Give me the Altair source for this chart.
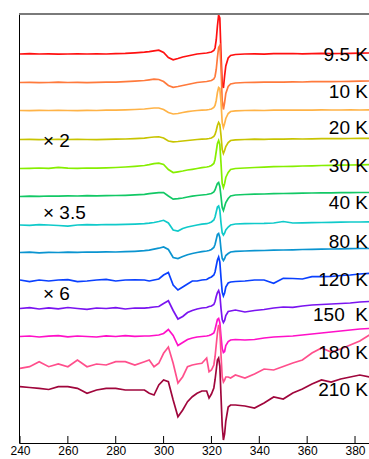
import altair as alt
import pandas as pd

# Magnetic field (mT) sampling grid
X = [240, 244, 248, 252, 256, 260, 264, 268, 272, 276, 280, 284, 288, 292,
     294, 296, 298, 300, 302, 304, 306, 308, 310, 312, 314, 316, 318,
     319, 320, 321, 321.5, 322, 322.5, 323, 323.5, 324, 324.5, 325, 325.5, 326, 327, 328,
     330, 334, 338, 342, 346, 350, 354, 358, 362, 366, 370, 374, 378, 382, 386]

series = ["trace 1", "trace 2", "trace 3", "trace 4", "trace 5", "trace 6", "trace 7",
          "trace 8", "trace 9", "trace 10", "trace 11", "trace 12", "trace 13"]
colors = ["#ff1010", "#ff7a3c", "#ffb347", "#c8c400", "#86ee00", "#12c865", "#10caca",
          "#0a94d0", "#0a40ff", "#7a14f0", "#ff10c8", "#ff4f8c", "#a0063c"]

# vertical offsets of each spectrum (stacked display)
offsets = [389, 360.5, 332.5, 303.5, 274.5, 246.5, 218, 190.5, 163, 134.5, 106.5, 78, 57]

s1 = [0, 0.3, 0, 0.2, -0.2, 0, 0.1, 0, 0.2, 0, 0.3, 0.6, 1.2, 1.8,
      2.3, 3.2, 3.8, 1.5, -3.5, -5.8, -4.5, -3, -2, -1, 0, 0.5, 1,
      1.5, 2, 3.5, 6, 14, 28, 39, 36, 0, -30, -34, -22, -12, -4, -1.5,
      -0.5, 0, 0.2, -0.2, 0.3, 0.3, 0.5, 0.2, 0.4, 0.6, 0.3, 0.5, 0.7, 0.8, 1]
s2 = [0, 0.2, -0.2, 0, 0.3, 0, 0.2, -0.1, 0.2, 0.3, 0.4, 0.8, 1.4, 2,
      2.6, 3.3, 3, 1, -3, -4.8, -4, -3, -2, -1, 0, 0.5, 1,
      1.5, 2, 3.5, 6, 13, 25, 35, 37, 15, -18, -27, -20, -11, -4, -1.5,
      -0.5, 0, 0.2, 0.3, 0.5, 0.4, 0.6, 0.5, 0.8, 0.9, 0.8, 1, 1.2, 1.3, 1.5]
s3 = [0, -0.2, 0.1, 0, 0.2, 0, -0.1, 0.2, 0, 0.3, 0.4, 0.6, 1, 1.5,
      2, 2.5, 2.5, 1, -2, -3.5, -3, -2, -1.2, -0.5, 0, 0.3, 0.6,
      1, 1.5, 3, 5, 10, 18, 23, 22, 8, -12, -17, -13, -8, -3, -1,
      -0.3, 0, 0.2, 0, 0.3, 0.4, 0.3, 0.5, 0.4, 0.6, 0.5, 0.5, 0.6, 0.5, 0.6]
s4 = [0, 0.1, -0.2, 0, 0.2, 0, 0.1, 0, -0.2, 0.2, 0.3, 0.5, 0.9, 1.4,
      2, 2.5, 2.7, 1.5, -1.5, -2.3, -2, -1.5, -1, -0.5, 0, 0.3, 0.6,
      1, 1.5, 3, 5, 9, 14, 17, 15, 4, -10, -14, -11, -7, -3, -1,
      -0.3, 0, 0.3, 0.2, 0.5, 0.4, 0.6, 0.5, 0.7, 0.8, 0.9, 0.8, 1, 1.1, 1.2]
s5 = [0, 0.2, 0.5, 0.2, 1.2, 0.3, 0.2, 0.5, 0.4, 0.7, 1, 1.5, 2.2, 3,
      3.8, 4.8, 5.3, 4, -1, -4, -3.3, -2.5, -1.5, -0.8, 0, 0.8, 1.5,
      2, 3, 5, 9, 17, 25, 28, 24, 5, -15, -19, -15, -9, -4, -1,
      0, 0.5, 1, 1.3, 1.8, 2, 2.2, 2.5, 2.7, 3, 3.2, 3.3, 3.5, 3.6, 3.8]
s6 = [0, 0.3, 0.2, 0.5, 0.3, 0.6, 0.5, 0.8, 0.6, 0.9, 1, 1.2, 1.6, 2.2,
      2.8, 3.3, 3.8, 4, 0.5, -2.7, -2.2, -1.5, -0.5, 0.3, 1, 1.5, 2,
      2.5, 3, 4.5, 6.5, 10, 13, 14, 10, 0, -11, -14, -10, -6, -2, 0.5,
      1.5, 2, 2.3, 2.5, 2.8, 3, 3.2, 3.3, 3.5, 3.6, 3.7, 3.8, 3.9, 4, 4]
s7 = [0, -0.3, 0.3, 0, -0.5, -1.2, 0, 0.4, 0.2, 0.5, 0.3, 0.7, 0.9, 1.3,
      1.8, 2.5, 3.5, 4.7, 2, -5, -6, -3.5, -2, -1, 0, 0.8, 1.3,
      2, 3, 5, 8, 13, 18, 19, 15, 2, -8, -10, -8, -5, -2, 0,
      1, 1.3, 1.5, 1.6, 2, 3.5, 2, 2.2, 2.4, 2.5, 2.6, 2.8, 3, 3, 3.2]
s8 = [0, 0.3, -0.3, 0.2, 0, 0.4, 0.2, 0.5, 0.3, 0.6, 0.5, 0.8, 1.2, 1.8,
      2.4, 3.3, 4.3, 5.6, 3, -5, -6, -4, -2.2, -1, 0, 0.8, 1.5,
      2, 3, 5, 8, 13, 18, 19, 15, 3, -6, -8, -6, -3, -1, 0.5,
      1.2, 1.5, 1.8, 2, 2.3, 2.5, 2.7, 3, 3.2, 3.3, 3.5, 3.6, 3.8, 4, 4]
s9 = [0, -1.7, 0, -1, 0, 0.3, -1.7, -1, 0, 0.7, -1, 0, 0.2, 0,
      -1, 0, 1, 5, 7.5, -5, -10, -7, -4, -1, -1, 0, 0.5,
      2, 3, 5, 8, 14, 20, 23, 18, 2, -12, -16, -13, -7, -3, -2,
      -1.5, -1, 0, 0, -3.3, 1.7, 1.5, 1, 3.3, 3.3, 3.5, 4.5, 5, 6, 6.7]
s10 = [0, 0.8, -0.5, 0.6, -0.3, 1, 0, -0.8, 0.5, 0, 0.8, -0.5, 0.5, 0.3,
       0.8, 1.5, 2, 5, 7.7, -2, -10.5, -8, -4, -2, -0.5, 0.5, 1,
       2, 2.5, 4, 7, 12, 16, 18, 14, 0, -11, -14, -12, -7, -3, -2.5,
       -1.5, -3.5, -2, -1, 0.5, 1.5, 1.2, 2.5, 3.5, 4, 4.5, 5, 5.5, 6.5, 7]
s11 = [0, 0.5, -0.5, 0.3, 0.8, -0.3, 0.5, 0, -0.5, 0.6, 0, 0.8, 0.2, 0.5,
       0.5, 1, 1.5, 3, 7, 1, -9, -6, -3, -1.5, -0.5, 0, 0.5,
       1, 2, 3.5, 7, 12, 17, 18, 14, 0, -12, -16, -15, -9, -5, -3.5,
       -3, -3.5, -3, -1.5, -0.5, 0, 0.5, 1.5, 2.5, 3.5, 4.5, 5.5, 6.5, 7.5, 8]
s12 = [-3.3, -1.7, 3.3, -1.7, 1, -1.7, 5, -1.7, 1, 0, 3.3, 3.3, 0, 3.3,
       5, -1.7, 1.7, 11.7, 18, 1.7, -18, -11.7, -1.7, 0, 1, 1.7, 7,
       -6.7, -5, 0, 8, 20, 32, 40, 36, 10, -12, -17, -15, -12, -12, -13,
       -10, -13, -9, -4, -5, -1.5, 2, 5, 12, 17, 13, 16, 20, 24, 30]
s13 = [-0.7, -1.5, -2.3, -3.5, -0.7, -0.7, -2.3, -7.3, -4, -2.3, -2.3, -4, -4, -4,
       -7.3, -9, 1, 6, 4.3, -14, -30.7, -24, -15.7, -10.7, -7.3, -5, -5,
       -12, -8, -2, 6, 16, 26, 28, 20, -10, -40, -54, -48, -35, -21, -19,
       -19, -20, -22, -17, -11, -13, -7, -3, 2, 6, 4, 7, 9, 11, 9]
spectra = [s1, s2, s3, s4, s5, s6, s7, s8, s9, s10, s11, s12, s13]

temp_labels = ["9.5 K", "10 K", "20 K", "30 K", "40 K", "80 K", "120 K",
               "150\u00a0 K", "180 K", "210 K"]
temp_label_y = [388, 351.3, 315.3, 277.3, 240.3, 201.3, 163, 128, 89.7, 53]
mult_labels = ["\u00d7 2", "\u00d7 3.5", "\u00d7 6"]
mult_label_y = [302, 230, 149]

tick_values = [240, 260, 280, 300, 320, 340, 360, 380]

rows = []
for name, off, vals in zip(series, offsets, spectra):
    for i, (xv, v) in enumerate(zip(X, vals)):
        rows.append({"series": name, "i": i, "x": xv, "y": off + v})
df = pd.DataFrame(rows)

W, H = 350, 429
xscale = alt.Scale(domain=[239.58, 385.84], nice=False, zero=False)
yscale = alt.Scale(domain=[0, 429], nice=False, zero=False)
FONT = "Liberation Sans"

lines = alt.Chart(df).mark_line(strokeWidth=1.7, clip=True).encode(
    x=alt.X("x:Q", scale=xscale,
            axis=alt.Axis(values=tick_values, title=None, grid=False, ticks=False,
                          tickSize=0, labelPadding=2, labelFontSize=12, labelFont=FONT,
                          labelColor="black", labelFlush=False, domainColor="black",
                          domainWidth=1)),
    y=alt.Y("y:Q", scale=yscale,
            axis=alt.Axis(labels=False, ticks=False, title=None, grid=False,
                          domainColor="black", domainWidth=1)),
    color=alt.Color("series:N", scale=alt.Scale(domain=series, range=colors), legend=None),
    order=alt.Order("i:Q"),
)

ticks_df = pd.DataFrame({"t": tick_values})
tick_marks = alt.Chart(ticks_df).mark_rule(color="black", strokeWidth=1).encode(
    x=alt.X("t:Q", scale=xscale),
    y=alt.value(H),
    y2=alt.value(H - 7),
)

top_border = alt.Chart(pd.DataFrame({"a": [0]})).mark_rule(color="#7a7a7a", strokeWidth=2).encode(
    x=alt.value(0), x2=alt.value(W), y=alt.value(0)
)

tl_df = pd.DataFrame({"label": temp_labels, "y": temp_label_y, "x": [385.4] * len(temp_labels)})
temp_text = alt.Chart(tl_df).mark_text(align="right", baseline="middle", fontSize=19,
                                       font=FONT, color="black").encode(
    x=alt.X("x:Q", scale=xscale), y=alt.Y("y:Q", scale=yscale), text="label:N"
)

ml_df = pd.DataFrame({"label": mult_labels, "y": mult_label_y, "x": [249.6] * 3})
mult_text = alt.Chart(ml_df).mark_text(align="left", baseline="middle", fontSize=19,
                                       font=FONT, color="black").encode(
    x=alt.X("x:Q", scale=xscale), y=alt.Y("y:Q", scale=yscale), text="label:N"
)

chart = alt.layer(lines, tick_marks, top_border, temp_text, mult_text).properties(
    width=W, height=H,
    padding={"left": 19, "top": 14, "right": 0, "bottom": 16},
    autosize=alt.AutoSizeParams(type="none"),
    background="white",
).configure_view(stroke=None)

chart.save("out.html", embed_options={"renderer": "svg", "actions": False})
